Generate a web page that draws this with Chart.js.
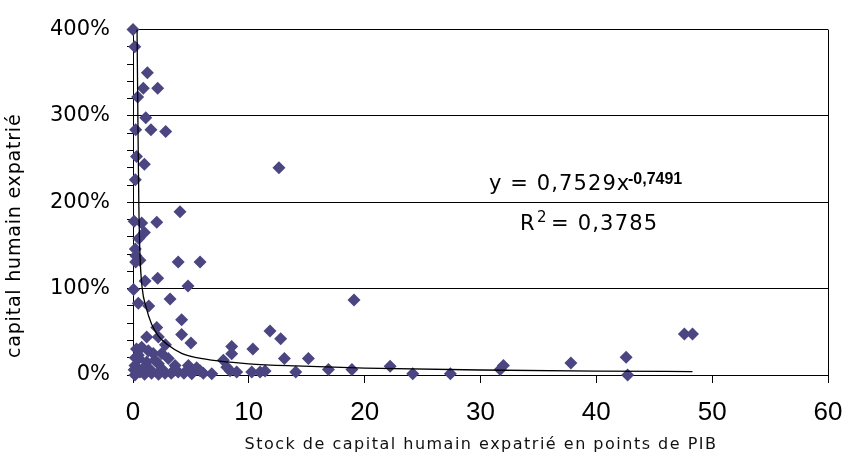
<!DOCTYPE html>
<html>
<head>
<meta charset="utf-8">
<title>Stock de capital humain expatrié</title>
<script src="https://cdn.jsdelivr.net/npm/chart.js@4/dist/chart.umd.min.js"></script>
<style>
  html, body { margin: 0; padding: 0; background: #fff; }
  #wrap { width: 843px; height: 461px; }
</style>
</head>
<body>
<div id="wrap"><canvas id="chart" width="843" height="461"></canvas></div>
<script>
  // scatter values: x = stock in GDP points, y = share (1 = 100%)
  var POINTS_X = [
    0, 0.15, 1.24, 0.89, 2.13, 0.4, 1.1, 0.23, 1.55, 2.82,
    0.3, 0.98, 0.2, 12.6, 4.06, 0.1, 0.75, 2.05, 0.98, 0.5,
    0.2, 0.25, 0.23, 0.6, 3.9, 5.79, 2.13, 1.04, 4.75, 0.05,
    3.2, 0.46, 1.36, 19.08, 4.2, 2.05, 4.2, 1.18, 2.19, 5.0,
    11.83, 12.75, 8.52, 8.52, 10.35, 13.07, 15.14, 7.8,
    0.3, 0.75, 1.32, 1.75, 2.48, 0.46, 3.05, 0.5, 1.18, 2.19, 0.17, 3.63, 4.78, 5.5,
    0.6, 1.6, 2.76, 3.9, 5.07, 6.07, 6.8, 0.17, 1.0, 2.2, 3.3, 4.4, 5.79, 8.1, 8.38,
    8.95, 10.25, 10.97, 11.4, 14.05,
    0.1, 0.9, 1.5, 2.5, 3.5, 1.9, 0.2, 2.8,
    16.87, 18.9, 22.2, 24.15, 27.4, 31.98, 31.7, 37.8, 42.57, 42.7, 47.6, 48.3
  ];
  var POINTS_Y = [
    4.0, 3.8, 3.5, 3.32, 3.32, 3.22, 2.98, 2.84, 2.84, 2.82,
    2.53, 2.44, 2.26, 2.40, 1.89, 1.78, 1.76, 1.77, 1.65, 1.58,
    1.46, 1.38, 1.31, 1.33, 1.31, 1.31, 1.12, 1.09, 1.03, 0.99,
    0.88, 0.83, 0.80, 0.87, 0.64, 0.55, 0.47, 0.44, 0.44, 0.37,
    0.51, 0.42, 0.33, 0.245, 0.30, 0.19, 0.19, 0.17,
    0.30, 0.32, 0.28, 0.25, 0.25, 0.23, 0.19, 0.19, 0.15, 0.13, 0.11, 0.11, 0.11, 0.085,
    0.035, 0.02, 0.02, 0.035, 0.015, 0.02, 0.015, 0, 0.01, 0.01, 0.02, 0.02, 0.05, 0.09, 0.05,
    0.035, 0.035, 0.035, 0.045, 0.035,
    0.06, 0.08, 0.06, 0.07, 0.05, 0.17, 0.2, 0.35,
    0.065, 0.065, 0.10, 0.015, 0.015, 0.11, 0.065, 0.138, 0.207, 0, 0.476, 0.476
  ];

  // power trend line as drawn in the picture
  var TREND_X = [0.35, 0.42, 0.5, 0.6, 0.8, 1.1, 1.6, 2.2, 3, 4.2, 5.5, 7.5, 10, 14, 20, 30, 40, 48.3];
  var TREND_Y = [4.0, 3.0, 2.0, 1.4, 1.0, 0.8, 0.59, 0.45, 0.35, 0.25, 0.2, 0.16, 0.13, 0.105, 0.08, 0.058, 0.046, 0.04];

  var X_TICKS = [0, 10, 20, 30, 40, 50, 60];
  var Y_LABELS = { 0: "0%", 1: "100%", 2: "200%", 3: "300%", 4: "400%" };

  var MARKER = "#4b4682";

  function pairs(xs, ys) {
    return xs.map(function (x, i) { return { x: x, y: ys[i] }; });
  }
  function isMajor(v) { return Math.abs(v - Math.round(v)) < 1e-6; }

  // titles and trend equation, drawn as canvas text (letter-spaced like the original)
  var notes = {
    id: "notes",
    afterDraw: function (chart) {
      var ctx = chart.ctx;
      ctx.save();
      ctx.fillStyle = "#000";
      ctx.textBaseline = "alphabetic";
      ctx.textAlign = "left";

      ctx.save();
      ctx.translate(20, 358);
      ctx.rotate(-Math.PI / 2);
      ctx.font = "19px 'DejaVu Sans'";
      ctx.letterSpacing = "0.8px";
      ctx.fillText("capital humain expatrié", 0, 0);
      ctx.restore();

      ctx.save();
      ctx.font = "16px 'DejaVu Sans'";
      ctx.letterSpacing = "1.5px";
      ctx.fillStyle = "#111";
      ctx.textAlign = "center";
      ctx.fillText("Stock de capital humain expatrié en points de PIB", 481, 449);
      ctx.restore();

      ctx.letterSpacing = "1.1px";
      ctx.font = "21px 'DejaVu Sans'";
      ctx.fillText("y = 0,7529x", 489, 190);
      ctx.letterSpacing = "0px";
      ctx.font = "bold 16px 'Liberation Sans'";
      ctx.fillText("-0,7491", 628, 184);
      ctx.letterSpacing = "1.2px";
      ctx.font = "21px 'DejaVu Sans'";
      ctx.fillText("R", 520, 230);
      ctx.font = "15px 'DejaVu Sans'";
      ctx.fillText("2", 537, 222);
      ctx.font = "21px 'DejaVu Sans'";
      ctx.fillText("= 0,3785", 551, 230);
      ctx.restore();
    }
  };

  new Chart(document.getElementById("chart"), {
    type: "scatter",
    data: {
      datasets: [{
        label: "tendance",
        data: pairs(TREND_X, TREND_Y),
        showLine: true,
        borderColor: "#000",
        borderWidth: 1.3,
        pointRadius: 0,
        cubicInterpolationMode: "monotone",
        fill: false
      }, {
        label: "pays",
        data: pairs(POINTS_X, POINTS_Y),
        pointStyle: "rectRot",
        pointRadius: 6.5,
        pointBackgroundColor: MARKER,
        pointBorderWidth: 0,
        pointBorderColor: MARKER,
        clip: false
      }]
    },
    options: {
      responsive: false,
      animation: false,
      events: [],
      layout: { padding: { left: 0, right: 0, top: 24, bottom: 0 } },
      plugins: { legend: { display: false }, tooltip: { enabled: false } },
      scales: {
        x: {
          type: "linear",
          min: 0, max: 60,
          afterBuildTicks: function (s) { s.ticks = X_TICKS.map(function (v) { return { value: v }; }); },
          afterFit: function (s) { s.height = 86; s.paddingLeft = 0; s.paddingRight = 15; },
          ticks: { color: "#000", padding: 14, font: { family: "'Liberation Sans'", size: 26 } },
          grid: {
            color: function (c) { return c.tick && c.tick.value === 60 ? "#000" : "rgba(0,0,0,0)"; },
            tickColor: "#000", tickLength: 8, lineWidth: 1
          },
          border: { color: "#000", width: 1 }
        },
        y: {
          min: 0, max: 4,
          afterFit: function (s) { s.width = 133; },
          ticks: {
            stepSize: 0.2, autoSkip: false, color: "#000", padding: 17,
            font: { family: "'DejaVu Sans'", size: 21 },
            callback: function (v) { return isMajor(v) ? Y_LABELS[Math.round(v)] : ""; }
          },
          grid: {
            color: function (c) { return c.tick && isMajor(c.tick.value) ? "#000" : "rgba(0,0,0,0)"; },
            tickColor: "#000", tickLength: 6, lineWidth: 1
          },
          border: { color: "#000", width: 1 }
        }
      }
    },
    plugins: [notes]
  });
</script>
</body>
</html>
